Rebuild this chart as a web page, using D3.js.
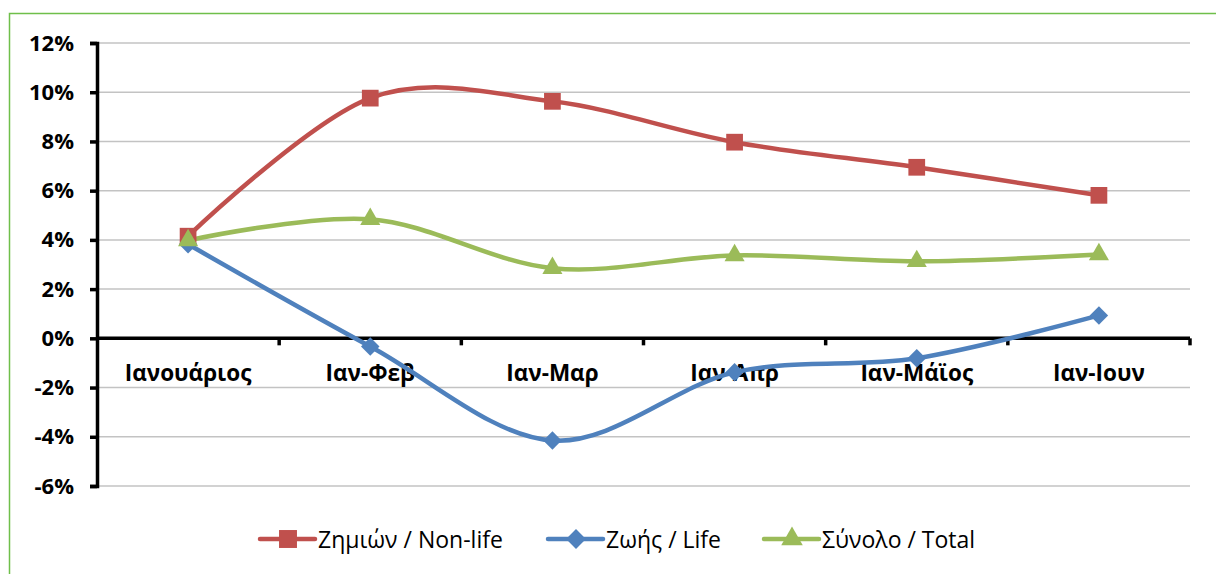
<!DOCTYPE html>
<html>
<head>
<meta charset="utf-8">
<script src="https://cdn.jsdelivr.net/npm/d3@7"></script>
<style>
  body { margin:0; background:#fff; }
  text { font-family: "Open Sans", "Noto Sans", sans-serif; fill:#000; }
</style>
</head>
<body>
<div class="canvas"></div>
<script>
// data
const categories = ['Ιανουάριος', 'Ιαν-Φεβ', 'Ιαν-Μαρ', 'Ιαν-Απρ', 'Ιαν-Μάϊος', 'Ιαν-Ιουν'];
const nonLife = [4.15, 9.76, 9.63, 7.97, 6.95, 5.81];
const life = [3.82, -0.33, -4.15, -1.38, -0.81, 0.93];
const total = [3.98, 4.84, 2.85, 3.37, 3.13, 3.41];
const yTicks = [-6, -4, -2, 0, 2, 4, 6, 8, 10, 12];
const seriesNames = ['Ζημιών / Non-life', 'Ζωής / Life', 'Σύνολο / Total'];

const W = 1216, H = 574;
const margin = { top:43, right:26, bottom:88, left:97 };
const graphWidth = W - margin.left - margin.right;
const graphHeight = H - margin.top - margin.bottom;

const svg = d3.select('.canvas').append('svg')
  .attr('width', W).attr('height', H);

// outer green frame
svg.append('rect')
  .attr('x', 9.5).attr('y', 13.5)
  .attr('width', W).attr('height', H)
  .attr('fill', 'none').attr('stroke', '#6fbf4a').attr('stroke-width', 1.5);

const graph = svg.append('g')
  .attr('transform', `translate(${margin.left}, ${margin.top})`);

const x = d3.scaleBand().domain(categories).range([0, graphWidth]);
const y = d3.scaleLinear().domain([-6, 12]).range([graphHeight, 0]);
const cx = d => x(d) + x.bandwidth() / 2;

// gridlines
graph.append('g').selectAll('line')
  .data(yTicks).enter().append('line')
  .attr('x1', 0).attr('x2', graphWidth)
  .attr('y1', d => y(d)).attr('y2', d => y(d))
  .attr('stroke', '#c3c3c3').attr('stroke-width', 1.5);

// y axis
const yAxis = d3.axisLeft(y).tickValues(yTicks).tickSize(7).tickPadding(16)
  .tickFormat(d => d + '%');
const yAxisGroup = graph.append('g').call(yAxis);
yAxisGroup.select('.domain').attr('stroke', '#000').attr('stroke-width', 3.5);
yAxisGroup.selectAll('.tick line').attr('stroke', '#000').attr('stroke-width', 3.5);
yAxisGroup.selectAll('text')
  .style('font-size', '22px').style('font-weight', 'bold')
  .attr('fill', '#000');

// x axis on 0 line: boundary ticks downwards
const xAxisGroup = graph.append('g').attr('transform', `translate(0, ${y(0)})`);
xAxisGroup.append('line')
  .attr('x1', 0).attr('x2', graphWidth)
  .attr('stroke', '#000').attr('stroke-width', 3.5);
xAxisGroup.selectAll('.bt')
  .data(categories).enter().append('line')
  .attr('x1', d => x(d) + x.bandwidth()).attr('x2', d => x(d) + x.bandwidth())
  .attr('y1', 0).attr('y2', 7)
  .attr('stroke', '#000').attr('stroke-width', 3.5);
xAxisGroup.selectAll('.cl')
  .data(categories).enter().append('text')
  .attr('x', d => cx(d)).attr('y', 43)
  .attr('text-anchor', 'middle')
  .style('font-size', '22.5px').style('font-weight', 'bold')
  .text(d => d);

// markers: square, diamond (rotated square), triangle
const series = [
  { name: seriesNames[0], values: nonLife, color: '#c0504d', symbol: d3.symbolSquare, size: 280, rot: 0 },
  { name: seriesNames[1], values: life, color: '#4f81bd', symbol: d3.symbolSquare, size: 170, rot: 45 },
  { name: seriesNames[2], values: total, color: '#9bbb59', symbol: d3.symbolTriangle, size: 175, rot: 0 }
];

const line = d3.line()
  .x((d, i) => cx(categories[i]))
  .y(d => y(d))
  .curve(d3.curveCatmullRom.alpha(0));

series.forEach(s => {
  graph.append('path')
    .datum(s.values)
    .attr('fill', 'none')
    .attr('stroke', s.color)
    .attr('stroke-width', 4.5)
    .attr('d', line);
});
series.forEach(s => {
  graph.selectAll(null)
    .data(s.values).enter().append('path')
    .attr('transform', (d, i) => `translate(${cx(categories[i])}, ${y(d)}) rotate(${s.rot})`)
    .attr('d', d3.symbol().type(s.symbol).size(s.size))
    .attr('fill', s.color);
});

// legend
const legendX = [260, 548, 764];
const legend = svg.append('g').attr('transform', 'translate(0, 539)');
series.forEach((s, i) => {
  const g = legend.append('g').attr('transform', `translate(${legendX[i]}, 0)`);
  g.append('line').attr('x1', 0).attr('x2', 55)
    .attr('stroke', s.color).attr('stroke-width', 4.5).attr('stroke-linecap', 'round');
  g.append('path').attr('transform', `translate(28, 0) rotate(${s.rot})`)
    .attr('d', d3.symbol().type(s.symbol).size(s.size * 1.15)).attr('fill', s.color);
  g.append('text').attr('x', 58).attr('y', 9)
    .style('font-size', '23px').text(s.name);
});
</script>
</body>
</html>
